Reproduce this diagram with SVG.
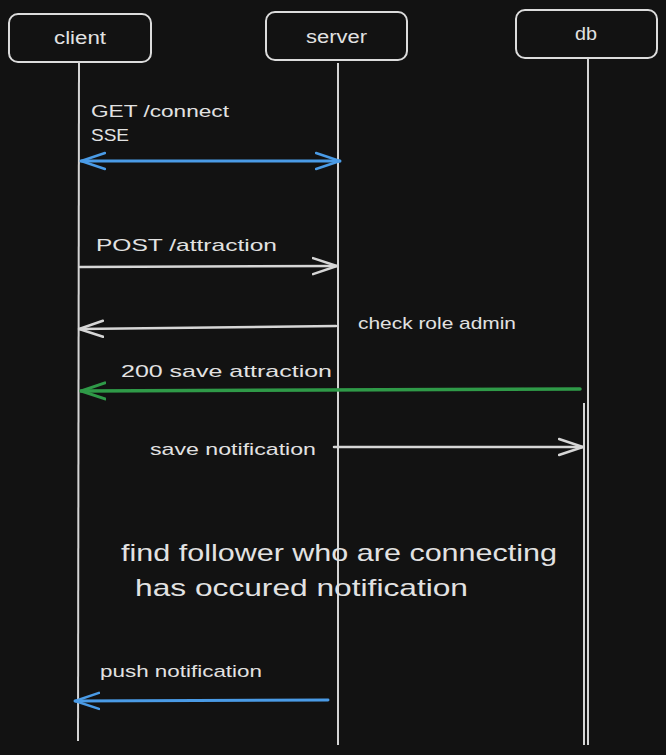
<svg xmlns="http://www.w3.org/2000/svg" width="666" height="755" viewBox="0 0 666 755">
  <style>
    .bg { fill: #121212; }
    .box { fill: none; stroke: #dcdcdc; stroke-width: 2; }
    .life { stroke: #d4d4d4; stroke-width: 2; fill: none; }
    .msg { fill: none; stroke-linecap: round; }
    .white { stroke: #d6d6d6; stroke-width: 2.5; }
    .blue { stroke: #4a9be6; stroke-width: 3; }
    .green { stroke: #2f9a48; stroke-width: 3.5; }
    text { font-family: "Liberation Sans", "DejaVu Sans", sans-serif; fill: #e2e2e2; }
    .lbl { font-size: 17px; }
    .name { font-size: 18px; }
    .note { font-size: 24px; }
  </style>
  <defs>
    <marker id="headWhite" viewBox="0 0 26 20" refX="25" refY="10" markerWidth="26" markerHeight="20" markerUnits="userSpaceOnUse" orient="auto-start-reverse">
      <path d="M1,2 L25,10 L1,18" fill="none" stroke="#d6d6d6" stroke-width="2.5" stroke-linecap="round"/>
    </marker>
    <marker id="headBlue" viewBox="0 0 26 20" refX="25" refY="10" markerWidth="26" markerHeight="20" markerUnits="userSpaceOnUse" orient="auto-start-reverse">
      <path d="M1,2 L25,10 L1,18" fill="none" stroke="#4a9be6" stroke-width="2.5" stroke-linecap="round"/>
    </marker>
    <marker id="headGreen" viewBox="0 0 26 20" refX="25" refY="10" markerWidth="26" markerHeight="20" markerUnits="userSpaceOnUse" orient="auto-start-reverse">
      <path d="M1,2 L25,10 L1,18" fill="none" stroke="#2f9a48" stroke-width="3" stroke-linecap="round"/>
    </marker>
  </defs>

  <rect class="bg" x="0" y="0" width="666" height="755"/>

  <!-- participants -->
  <g id="client">
    <rect class="box" x="9" y="14" width="142" height="48" rx="9"/>
    <text class="name" x="54" y="44" textLength="52" lengthAdjust="spacingAndGlyphs">client</text>
  </g>
  <g id="server">
    <rect class="box" x="266" y="12" width="141" height="48" rx="9"/>
    <text class="name" x="306" y="43" textLength="61" lengthAdjust="spacingAndGlyphs">server</text>
  </g>
  <g id="db">
    <rect class="box" x="516" y="10" width="141" height="48" rx="9"/>
    <text class="name" x="575" y="40" textLength="22" lengthAdjust="spacingAndGlyphs">db</text>
  </g>

  <!-- lifelines -->
  <g id="lifelines">
    <line class="life" x1="79" y1="62" x2="78" y2="741"/>
    <line class="life" x1="338" y1="63" x2="338" y2="745"/>
    <line class="life" x1="588" y1="58" x2="588" y2="745"/>
    <line class="life" x1="584" y1="403" x2="584" y2="745" stroke-width="1.5"/>
  </g>

  <!-- messages -->
  <g id="connectors">
    <line class="msg blue" x1="81" y1="161" x2="340" y2="161" marker-start="url(#headBlue)" marker-end="url(#headBlue)"/>
    <line class="msg white" x1="80" y1="267" x2="337" y2="266" marker-end="url(#headWhite)"/>
    <line class="msg white" x1="336" y1="326" x2="79" y2="329" marker-end="url(#headWhite)"/>
    <line class="msg green" x1="580" y1="389" x2="81" y2="391" marker-end="url(#headGreen)"/>
    <line class="msg white" x1="334" y1="447" x2="583" y2="447" marker-end="url(#headWhite)"/>
    <line class="msg blue" x1="328" y1="700" x2="75" y2="701" stroke-width="2.5" marker-end="url(#headBlue)"/>
  </g>

  <!-- labels -->
  <g id="labels">
    <text class="lbl" x="91" y="117" textLength="138" lengthAdjust="spacingAndGlyphs">GET /connect</text>
    <text class="lbl" x="91" y="141" textLength="38" lengthAdjust="spacingAndGlyphs">SSE</text>
    <text class="lbl" x="96" y="251" textLength="181" lengthAdjust="spacingAndGlyphs">POST /attraction</text>
    <text class="lbl" x="358" y="329" textLength="158" lengthAdjust="spacingAndGlyphs">check role admin</text>
    <text class="lbl" x="121" y="377" textLength="211" lengthAdjust="spacingAndGlyphs">200 save attraction</text>
    <text class="lbl" x="150" y="455" textLength="166" lengthAdjust="spacingAndGlyphs">save notification</text>
    <text class="note" x="121" y="561" textLength="436" lengthAdjust="spacingAndGlyphs">find follower who are connecting</text>
    <text class="note" x="135" y="596" textLength="333" lengthAdjust="spacingAndGlyphs">has occured notification</text>
    <text class="lbl" x="100" y="677" textLength="162" lengthAdjust="spacingAndGlyphs">push notification</text>
  </g>
</svg>
